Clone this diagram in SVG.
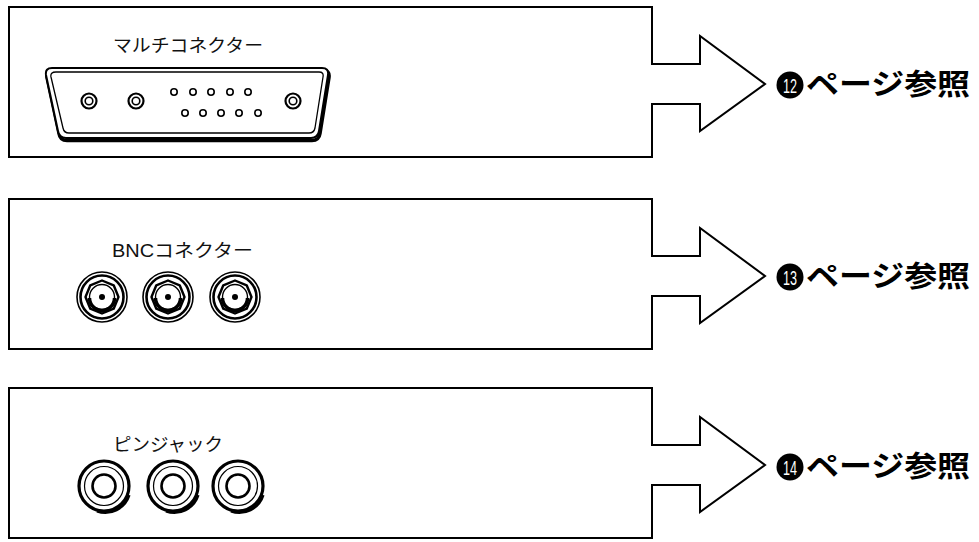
<svg xmlns="http://www.w3.org/2000/svg" xmlns:xlink="http://www.w3.org/1999/xlink" width="979" height="542" viewBox="0 0 979 542">
  <style>
    .frame { fill: none; stroke: #000; stroke-width: 2; stroke-linejoin: miter; }
    .lbl { font-family: "Liberation Sans", "Noto Sans CJK JP", sans-serif; font-size: 18px; fill: #111; }
    .ref { font-family: "Noto Sans CJK JP", sans-serif; font-weight: bold; font-size: 29px; fill: #000; }
    .num { font-family: "Liberation Sans", sans-serif; font-size: 21px; fill: #fff; }
    .ln { fill: none; stroke: #000; }
  </style>
  <defs>
    <!-- panel outline with the arrow leaving to the right; origin = top-left corner -->
    <path id="panelShape" d="M643,0 H0 V150 H643 V97 H691 V124 L756,77 L691,29 V57 H643 Z"/>
    <!-- one BNC socket, centred on 0,0 -->
    <g id="bnc">
      <circle r="25" class="ln" stroke-width="1.6"/>
      <circle r="21.5" class="ln" stroke-width="2.6"/>
      <polygon points="16.5,0 11.7,11.7 0,16.5 -11.7,11.7 -16.5,0 -11.7,-11.7 0,-16.5 11.7,-11.7" class="ln" stroke-width="2.4" stroke-linejoin="round"/>
      <circle r="12.5" class="ln" stroke-width="1.4"/>
      <path d="M-12.5,1 A12.5,12.5 0 0 0 12.5,1" class="ln" stroke-width="3.5"/>
      <circle r="3" fill="#000"/>
    </g>
    <!-- one RCA pin jack, centred on 0,0 -->
    <g id="rca">
      <path d="M24,8 A25,25 0 0 1 -8,24" class="ln" stroke-width="3.2" transform="translate(1,1)"/>
      <circle r="25" class="ln" stroke-width="3.2"/>
      <circle r="19.5" class="ln" stroke-width="1.2"/>
      <circle r="11.5" class="ln" stroke-width="2.6"/>
    </g>
  </defs>

  <rect width="979" height="542" fill="#fff"/>

  <!-- panel frames with their outgoing arrows -->
  <g id="connectors">
    <use xlink:href="#panelShape" class="frame" transform="translate(9,7)"/>
    <use xlink:href="#panelShape" class="frame" transform="translate(9,199)"/>
    <use xlink:href="#panelShape" class="frame" transform="translate(9,388)"/>
  </g>

  <!-- multi connector (D-sub) -->
  <g id="multi-connector">
    <text class="lbl" x="113" y="52" textLength="150" lengthAdjust="spacingAndGlyphs">マルチコネクター</text>
    <!-- drop shadow -->
    <path d="M52,69 H322 Q329,69 328,76 L319,132 Q318,139 311,139 H66 Q59,139 58,132 L46,76 Q45,69 52,69 Z" class="ln" stroke-width="3.5" transform="translate(1,1.5)"/>
    <path d="M52,68 H322 Q329,68 328,75 L319,131 Q318,138 311,138 H66 Q59,138 58,131 L46,75 Q45,68 52,68 Z" fill="#fff" stroke="#000" stroke-width="2"/>
    <path d="M56,72 H319 Q324,72 323,77 L315,128 Q314,133 309,133 H69 Q64,133 63,128 L51,77 Q50,72 56,72 Z" class="ln" stroke-width="1.3"/>
    <g class="ln" stroke-width="2.2">
      <circle cx="89" cy="101" r="7.5"/>
      <circle cx="136" cy="101" r="7.5"/>
      <circle cx="293" cy="101" r="7.5"/>
    </g>
    <g class="ln" stroke-width="1.6">
      <circle cx="89" cy="101" r="3.8"/>
      <circle cx="136" cy="101" r="3.8"/>
      <circle cx="293" cy="101" r="3.8"/>
      <circle cx="174" cy="92" r="3.2"/>
      <circle cx="193" cy="92" r="3.2"/>
      <circle cx="211" cy="92" r="3.2"/>
      <circle cx="230" cy="92" r="3.2"/>
      <circle cx="248" cy="92" r="3.2"/>
      <circle cx="185" cy="113" r="3.2"/>
      <circle cx="203" cy="113" r="3.2"/>
      <circle cx="221" cy="113" r="3.2"/>
      <circle cx="239" cy="113" r="3.2"/>
      <circle cx="258" cy="113" r="3.2"/>
    </g>
  </g>

  <!-- BNC connectors -->
  <g id="bnc-connector">
    <text class="lbl" x="112" y="257" textLength="141" lengthAdjust="spacingAndGlyphs">BNCコネクター</text>
    <use xlink:href="#bnc" transform="translate(102,297)"/>
    <use xlink:href="#bnc" transform="translate(168,297)"/>
    <use xlink:href="#bnc" transform="translate(235,297)"/>
  </g>

  <!-- pin jacks -->
  <g id="pin-jack">
    <text class="lbl" x="113" y="451" textLength="110" lengthAdjust="spacingAndGlyphs">ピンジャック</text>
    <use xlink:href="#rca" transform="translate(104,486)"/>
    <use xlink:href="#rca" transform="translate(173,486)"/>
    <use xlink:href="#rca" transform="translate(238,486)"/>
  </g>

  <!-- page references -->
  <g id="ref-12">
    <circle cx="790" cy="85" r="13.5" fill="#000"/>
    <text class="num" x="790" y="92.5" text-anchor="middle" textLength="14" lengthAdjust="spacingAndGlyphs">12</text>
    <text class="ref" x="806" y="95" textLength="164" lengthAdjust="spacingAndGlyphs">ページ参照</text>
  </g>
  <g id="ref-13">
    <circle cx="790" cy="277" r="13.5" fill="#000"/>
    <text class="num" x="790" y="284.5" text-anchor="middle" textLength="14" lengthAdjust="spacingAndGlyphs">13</text>
    <text class="ref" x="806" y="287" textLength="164" lengthAdjust="spacingAndGlyphs">ページ参照</text>
  </g>
  <g id="ref-14">
    <circle cx="790" cy="467" r="13.5" fill="#000"/>
    <text class="num" x="790" y="474.5" text-anchor="middle" textLength="14" lengthAdjust="spacingAndGlyphs">14</text>
    <text class="ref" x="806" y="477" textLength="164" lengthAdjust="spacingAndGlyphs">ページ参照</text>
  </g>
</svg>
